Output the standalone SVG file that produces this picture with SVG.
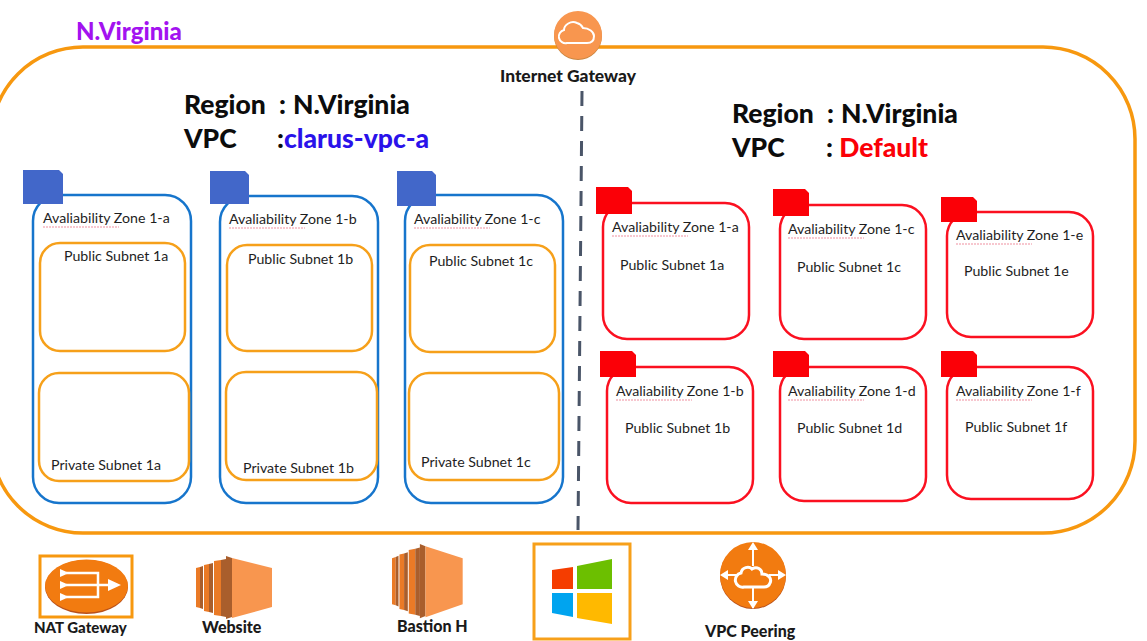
<svg xmlns="http://www.w3.org/2000/svg" width="1147" height="641" viewBox="0 0 1147 641">
<style>
text{font-family:"Lato","Open Sans","Liberation Sans",sans-serif;fill:#1e1e1e}
.az,.sub{font-size:14.2px}
.h{font-size:26.5px;font-weight:900;fill:#0c0c0c}
.lb{font-size:16px;font-weight:900;fill:#1a1a1a}
.blue{fill:none;stroke:#1675cc;stroke-width:2.500}
.or{fill:none;stroke:#f6a01a;stroke-width:2.500}
.red{fill:none;stroke:#fb1020;stroke-width:2.500}
.tagb{fill:#4267c9}
.tagr{fill:#fb0007}
.sq{fill:none;stroke:#ef8f9f;stroke-width:1;stroke-dasharray:2 1}
.e1{fill:#f8964f}.e2{fill:#a95e2c}.e3{fill:#ea7a26}
</style>
<defs>
<g id="server">
<path class="e3" d="M0 12l4-1v41l-4-1z"/><path class="e2" d="M4 11l3-1v43l-3-1z"/>
<path class="e3" d="M8 9l5-1v48l-5-1z"/><path class="e2" d="M13 8l4-1v50l-4-1z"/>
<path class="e3" d="M18 5l7-1v56l-7-1z"/><path class="e2" d="M25 4l5-1v58l-5-1z"/>
<path class="e2" d="M30 0l6 2v59l-6 2z"/>
<path class="e1" d="M36 2l40 10v39l-40 11z"/>
</g>
<path id="sqz" class="sq" d="M0 0h76"/>
</defs>
<rect width="1147" height="641" fill="#fff"/>
<g id="connectors">
<path d="M582 91L578 530" stroke="#4a5568" stroke-width="3" stroke-dasharray="15 10" fill="none"/>
</g>
<g id="region">
<rect x="-9" y="47" width="1144" height="486" rx="92" ry="92" fill="none" stroke="#f7980f" stroke-width="3.500"/>
<text x="76" y="40" style="fill:#a312f0;font-size:24px;font-weight:900">N.Virginia</text>
</g>
<g id="internet-gateway">
<circle cx="578" cy="36" r="24" fill="#c9853f"/>
<circle cx="578" cy="35" r="24" fill="#f8964f"/>
<path d="M567 43a6.500 6.500 0 0 1-3-13c0-5 7-10 13-7 4 1 5 3 6 5 6 0 11 4 11 8 0 5-3 7-7 7z" fill="none" stroke="#fff" stroke-width="2"/>
<text class="lb" x="500" y="82" style="font-size:17.400px">Internet Gateway</text>
</g>
<g id="headings">
<text class="h" x="184" y="114">Region</text><text class="h" x="279" y="114">:</text><text class="h" x="293" y="114">N.Virginia</text>
<text class="h" x="184" y="148">VPC</text><text class="h" x="277" y="148">:<tspan style="fill:#2a12ea">clarus-vpc-a</tspan></text>
<text class="h" x="732" y="123">Region</text><text class="h" x="827" y="123">:</text><text class="h" x="841" y="123">N.Virginia</text>
<text class="h" x="732" y="157">VPC</text><text class="h" x="826" y="157">: <tspan style="fill:#fb0007">Default</tspan></text>
</g>
<g id="az-1a"><rect class="blue" x="33" y="195" width="158" height="308" rx="26"/><path class="tagb" d="M23 170h36l4 4v30H23z"/><text class="az" x="43" y="223">Avaliability Zone 1-a</text><use href="#sqz" x="43" y="227"/></g>
<g id="public-1a"><rect class="or" x="40" y="243" width="145" height="108" rx="20"/><text class="sub" x="64" y="261">Public Subnet 1a</text></g>
<g id="private-1a"><rect class="or" x="39" y="373" width="150" height="108" rx="20"/><text class="sub" x="51" y="470">Private Subnet 1a</text></g>
<g id="az-1b"><rect class="blue" x="220" y="196" width="158" height="307" rx="26"/><path class="tagb" d="M210 171h35l4 4v29H210z"/><text class="az" x="229" y="224">Avaliability Zone 1-b</text><use href="#sqz" x="229" y="228"/></g>
<g id="public-1b"><rect class="or" x="227" y="245" width="145" height="106" rx="20"/><text class="sub" x="248" y="264">Public Subnet 1b</text></g>
<g id="private-1b"><rect class="or" x="226" y="372" width="151" height="108" rx="20"/><text class="sub" x="243" y="473">Private Subnet 1b</text></g>
<g id="az-1c"><rect class="blue" x="405" y="195" width="158" height="308" rx="26"/><path class="tagb" d="M397 171h35l4 4v31H397z"/><text class="az" x="414" y="224">Avaliability Zone 1-c</text><use href="#sqz" x="414" y="228"/></g>
<g id="public-1c"><rect class="or" x="410" y="245" width="145" height="107" rx="20"/><text class="sub" x="429" y="266">Public Subnet 1c</text></g>
<g id="private-1c"><rect class="or" x="409" y="373" width="150" height="107" rx="20"/><text class="sub" x="421" y="467">Private Subnet 1c</text></g>
<g id="red-1a"><rect class="red" x="603" y="203" width="146" height="136" rx="24"/><path class="tagr" d="M596 187h32l4 4v23h-36z"/><text class="az" x="612" y="232">Avaliability Zone 1-a</text><use href="#sqz" x="612" y="236"/><text class="sub" x="620" y="270">Public Subnet 1a</text></g>
<g id="red-1c"><rect class="red" x="780" y="205" width="146" height="134" rx="24"/><path class="tagr" d="M773 189h32l4 4v23h-36z"/><text class="az" x="788" y="234">Avaliability Zone 1-c</text><use href="#sqz" x="788" y="238"/><text class="sub" x="797" y="272">Public Subnet 1c</text></g>
<g id="red-1e"><rect class="red" x="947" y="212" width="146" height="125" rx="24"/><path class="tagr" d="M941 197h32l4 4v21h-36z"/><text class="az" x="956" y="240">Avaliability Zone 1-e</text><use href="#sqz" x="956" y="244"/><text class="sub" x="964" y="276">Public Subnet 1e</text></g>
<g id="red-1b"><rect class="red" x="607" y="367" width="146" height="136" rx="24"/><path class="tagr" d="M600 351h32l4 4v22h-36z"/><text class="az" x="616" y="396">Avaliability Zone 1-b</text><use href="#sqz" x="616" y="400"/><text class="sub" x="625" y="433">Public Subnet 1b</text></g>
<g id="red-1d"><rect class="red" x="780" y="367" width="146" height="134" rx="24"/><path class="tagr" d="M773 351h32l4 4v22h-36z"/><text class="az" x="788" y="396">Avaliability Zone 1-d</text><use href="#sqz" x="788" y="400"/><text class="sub" x="797" y="433">Public Subnet 1d</text></g>
<g id="red-1f"><rect class="red" x="947" y="367" width="146" height="132" rx="24"/><path class="tagr" d="M941 351h32l4 4v22h-36z"/><text class="az" x="956" y="396">Avaliability Zone 1-f</text><use href="#sqz" x="956" y="400"/><text class="sub" x="965" y="432">Public Subnet 1f</text></g>
<g id="nat-gateway">
<rect x="40" y="556" width="92" height="61" fill="none" stroke="#f7980f" stroke-width="3"/>
<ellipse cx="86.500" cy="587" rx="41.500" ry="27" fill="#b8501a"/>
<ellipse cx="86.500" cy="586" rx="41.500" ry="26.500" fill="#f27b10"/>
<path d="M66 573h32v24H66M66 585h44" fill="none" stroke="#fff" stroke-width="2.500"/>
<path d="M60 569l9 4-9 4zM60 581l9 4-9 4zM60 593l9 4-9 4zM108 579l13 6-13 6z" fill="#fff"/>
<text class="lb" x="34" y="633" style="font-size:15px">NAT Gateway</text>
</g>
<g id="website">
<use href="#server" x="196" y="556"/>
<text class="lb" x="202" y="633">Website</text>
</g>
<g id="bastion">
<use href="#server" transform="translate(392 544) scale(.93 1.180)"/>
<text class="lb" x="397" y="632">Bastion H</text>
</g>
<g id="windows">
<rect x="534" y="544" width="96" height="95" fill="none" stroke="#f7a01a" stroke-width="3"/>
<path d="M552 570l21-3v22h-21z" fill="#f53d00"/><path d="M577 566l35-7v30h-35z" fill="#6cbf00"/>
<path d="M552 593h21v24l-21-4z" fill="#00a4ef"/><path d="M577 593h35v31l-35-6z" fill="#ffb900"/>
</g>
<g id="vpc-peering">
<circle cx="753" cy="576" r="33" fill="#b8501a"/>
<circle cx="753" cy="575" r="33" fill="#f27b10"/>
<path d="M753 549v17M753 586v22M727 575h10M769 575h10" stroke="#fff" stroke-width="2" fill="none"/>
<path d="M753 542l-5 8h10zM753 609l-5-8h10zM720 575l8-5v10zM786 575l-8-5v10z" fill="#fff"/>
<path d="M744 587a7 7 0 0 1-3-14c1-6 8-7 11-4 5-3 10 0 10 5 7 0 10 5 8 9-1 3-3 4-6 4z" fill="none" stroke="#fff" stroke-width="3"/>
<text class="lb" x="705" y="637">VPC Peering</text>
</g>
</svg>
